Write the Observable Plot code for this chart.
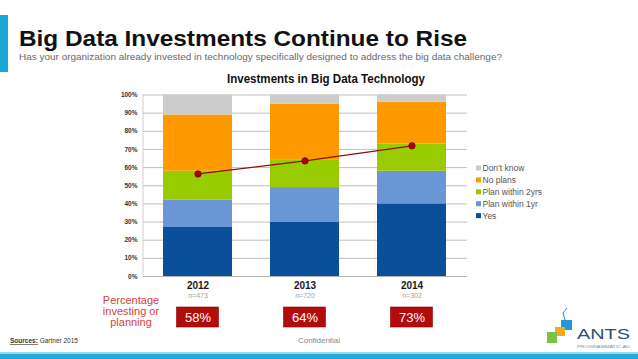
<!DOCTYPE html>
<html>
<head>
<meta charset="utf-8">
<script src="https://cdn.jsdelivr.net/npm/d3@7"></script>
<script src="https://cdn.jsdelivr.net/npm/@observablehq/plot@0.6"></script>
<style>
  html, body { margin: 0; padding: 0; background: #fff; }
  #wrap { position: relative; width: 638px; height: 359px; overflow: hidden; background: #fff; }
  #wrap > svg { position: absolute; left: 0; top: 0; }
  #overlay { pointer-events: none; }
</style>
</head>
<body>
<div id="wrap"></div>
<script>
// ---- data ----
const years = ["2012", "2013", "2014"];
const series = ["Yes", "Plan within 1yr", "Plan within 2yrs", "No plans", "Don't know"];
const yesValues = [27, 30, 40];
const plan1yrValues = [15, 19, 18];
const plan2yrsValues = [16, 15, 15];
const noPlansValues = [31, 31, 23];
const dontKnowValues = [11, 5, 4];
const trendValues = [56.5, 63.7, 72];
const sampleLabels = ["n=473", "n=720", "n=302"];
const pctLabels = ["58%", "64%", "73%"];
const yTicks = [0, 10, 20, 30, 40, 50, 60, 70, 80, 90, 100];
const colors = ["#0b4f9b", "#6b96d6", "#99cc00", "#ff9900", "#cccccc"];

const seriesValues = [yesValues, plan1yrValues, plan2yrsValues, noPlansValues, dontKnowValues];
const stacked = years.flatMap((yr, i) => series.map((s, j) => ({year: yr, series: s, value: seriesValues[j][i]})));
const trend = years.map((yr, i) => ({year: yr, value: trendValues[i]}));
const bottomLabels = years.map((yr, i) => ({year: yr, n: sampleLabels[i], pct: pctLabels[i]}));

const plot = Plot.plot({
  width: 638,
  height: 359,
  marginLeft: 143,
  marginRight: 171,
  marginTop: 94.5,
  marginBottom: 83,
  style: {background: "transparent", fontFamily: "'Liberation Sans', Arial, sans-serif"},
  x: {domain: years, paddingInner: 0.355, paddingOuter: 0.19, label: null},
  y: {domain: [0, 100], label: null},
  color: {domain: series, range: colors},
  marks: [
    Plot.gridY(yTicks, {stroke: "#b0b0b0", strokeOpacity: 1, strokeWidth: 0.8}),
    Plot.ruleY([0], {stroke: "#b0b0b0", strokeWidth: 0.8}),
    Plot.barY(stacked, {x: "year", y: "value", fill: "series"}),
    Plot.axisY({ticks: yTicks, tickSize: 0, tickPadding: 6, tickFormat: d => d + "%", fontWeight: "bold", fontSize: 6.5, fill: "#333", label: null}),
    Plot.axisX({tickSize: 0, tickPadding: 5, fontWeight: "bold", fontSize: 10, fill: "#1a1a1a", label: null}),
    Plot.line(trend, {x: "year", y: "value", stroke: "#8a1010", strokeWidth: 1.3}),
    Plot.dot(trend, {x: "year", y: "value", r: 3.2, fill: "#b00000", stroke: "#7a0000", strokeWidth: 0.8}),
    Plot.text(bottomLabels, {x: "year", y: () => 0, text: "n", dy: 19, fill: "#a0a0a0", fontSize: 7}),
    Plot.text(bottomLabels, {x: "year", y: () => 0, text: "pct", dy: 41, fill: "#ffffff", fontSize: 13})
  ]
});
document.getElementById("wrap").appendChild(plot);

// left axis line of the plot frame
const xs = plot.scale("x");
const ys = plot.scale("y");
const svgSel = d3.select(plot);
svgSel.insert("line", ":first-child")
  .attr("x1", xs.range[0]).attr("x2", xs.range[0])
  .attr("y1", ys.apply(0)).attr("y2", ys.apply(100))
  .attr("stroke", "#c0c0c0").attr("stroke-width", 0.8);

// red boxes behind the percentage labels, positioned by the x scale
const textGroups = plot.querySelectorAll("g[aria-label='text']");
const pctGroup = textGroups[textGroups.length - 1];
const boxG = document.createElementNS("http://www.w3.org/2000/svg", "g");
pctGroup.parentNode.insertBefore(boxG, pctGroup);
d3.select(boxG).selectAll("rect").data(years).join("rect")
  .attr("x", d => xs.apply(d) + xs.bandwidth / 2 - 21)
  .attr("y", ys.apply(0) + 31)
  .attr("width", 42).attr("height", 20)
  .attr("fill", "#b30c0c").attr("stroke", "#8c0000").attr("stroke-width", 0.6);

// ---- overlay: titles, legend, footer ----
const ov = d3.select("#wrap").append("svg").attr("id", "overlay")
  .attr("width", 638).attr("height", 359);

ov.append("rect").attr("x", 0).attr("y", 15).attr("width", 8).attr("height", 57).attr("fill", "#18a6d6");
ov.append("text").attr("x", 19).attr("y", 46)
  .attr("font-family", "'Liberation Sans', Arial, sans-serif").attr("font-weight", "bold")
  .attr("font-size", 22).attr("fill", "#111")
  .attr("textLength", 448).attr("lengthAdjust", "spacingAndGlyphs")
  .text("Big Data Investments Continue to Rise");
ov.append("text").attr("x", 19).attr("y", 60)
  .attr("font-family", "'Liberation Sans', Arial, sans-serif")
  .attr("font-size", 9.5).attr("fill", "#6a6a6a")
  .attr("textLength", 483).attr("lengthAdjust", "spacingAndGlyphs")
  .text("Has your organization already invested in technology specifically designed to address the big data challenge?");
ov.append("text").attr("x", 227).attr("y", 83)
  .attr("font-family", "'Liberation Sans', Arial, sans-serif").attr("font-weight", "bold")
  .attr("font-size", 12).attr("fill", "#111")
  .attr("textLength", 198).attr("lengthAdjust", "spacingAndGlyphs")
  .text("Investments in Big Data Technology");

// legend (top to bottom: reversed series)
const legendSeries = series.slice().reverse();
const legendColors = colors.slice().reverse();
legendSeries.forEach((s, i) => {
  const cy = 168 + i * 11.9;
  ov.append("rect").attr("x", 476).attr("y", cy - 2.5).attr("width", 5).attr("height", 5).attr("fill", legendColors[i]);
  ov.append("text").attr("x", 482.5).attr("y", cy + 3)
    .attr("font-family", "'Liberation Sans', Arial, sans-serif")
    .attr("font-size", 8.5).attr("fill", "#555").text(s);
});

// "Percentage investing or planning"
["Percentage", "investing or", "planning"].forEach((t, i) => {
  ov.append("text").attr("x", 131).attr("y", 304 + i * 11).attr("text-anchor", "middle")
    .attr("font-family", "'Liberation Sans', Arial, sans-serif")
    .attr("font-size", 11).attr("fill", "#d5423b").text(t);
});

// footer
const src = ov.append("text").attr("x", 10).attr("y", 343)
  .attr("font-family", "'Liberation Sans', Arial, sans-serif").attr("font-size", 6.5).attr("fill", "#333");
src.append("tspan").attr("font-weight", "bold").attr("text-decoration", "underline").text("Sources:");
src.append("tspan").text(" Gartner 2015");
ov.append("text").attr("x", 298).attr("y", 343)
  .attr("font-family", "'Liberation Sans', Arial, sans-serif").attr("font-size", 8).attr("fill", "#888")
  .attr("textLength", 42).attr("lengthAdjust", "spacingAndGlyphs").text("Confidential");
ov.append("rect").attr("x", 0).attr("y", 352).attr("width", 638).attr("height", 2).attr("fill", "#9fd9ee");
ov.append("rect").attr("x", 0).attr("y", 354).attr("width", 638).attr("height", 5).attr("fill", "#22a8db");

// logo
ov.append("path").attr("d", "M565 320 L563 313 L567 308").attr("fill", "none").attr("stroke", "#2a86c8").attr("stroke-width", 1);
ov.append("rect").attr("x", 561).attr("y", 320).attr("width", 11).attr("height", 10).attr("fill", "#2596d6");
ov.append("rect").attr("x", 555).attr("y", 327).attr("width", 10).attr("height", 9).attr("fill", "#f5a623");
ov.append("rect").attr("x", 547).attr("y", 332).attr("width", 10).attr("height", 11).attr("fill", "#7cc242");
ov.append("text").attr("x", 577).attr("y", 339)
  .attr("font-family", "'Liberation Sans', Arial, sans-serif").attr("font-size", 14).attr("fill", "#2d4f74")
  .attr("textLength", 53).attr("lengthAdjust", "spacingAndGlyphs").text("ANTS");
ov.append("text").attr("x", 577).attr("y", 348)
  .attr("font-family", "'Liberation Sans', Arial, sans-serif").attr("font-size", 4).attr("fill", "#7a8a9a")
  .attr("textLength", 53).attr("lengthAdjust", "spacingAndGlyphs").text("PROGRAMMATIC AD");
</script>
</body>
</html>
